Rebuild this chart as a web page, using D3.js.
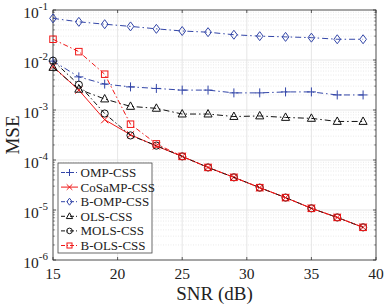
<!DOCTYPE html>
<html>
<head>
<meta charset="utf-8">
<script src="https://cdn.jsdelivr.net/npm/d3@7"></script>
<style>
  body { margin: 0; background: #fff; }
  svg, svg text { font-family: "Liberation Serif", "Times New Roman", Times, "DejaVu Serif", serif; }
</style>
</head>
<body>
<div id="vis"></div>
<script>
const snr = [15, 17, 19, 21, 23, 25, 27, 29, 31, 33, 35, 37, 39];

const ompCss    = [0.0095, 0.0046, 0.0033, 0.0029, 0.0027, 0.0025, 0.0025, 0.0022, 0.0022, 0.0023, 0.0023, 0.0020, 0.0020];
const cosampCss = [0.0074, 0.0025, 0.00064, 0.00032, 0.00019, 0.000118, 7.1e-5, 4.5e-5, 2.8e-5, 1.77e-5, 1.08e-5, 7.1e-6, 4.5e-6];
const bOmpCss   = [0.068, 0.058, 0.052, 0.047, 0.042, 0.038, 0.036, 0.032, 0.030, 0.029, 0.028, 0.026, 0.026];
const olsCss    = [0.0071, 0.0026, 0.00166, 0.00118, 0.00108, 0.00083, 0.00083, 0.00074, 0.00076, 0.00071, 0.00068, 0.00059, 0.00059];
const molsCss   = [0.0097, 0.0032, 0.00085, 0.00031, 0.000194, 0.000118, 7.1e-5, 4.5e-5, 2.8e-5, 1.77e-5, 1.08e-5, 7.1e-6, 4.5e-6];
const bOlsCss   = [0.026, 0.0147, 0.0052, 0.00052, 0.00021, 0.000118, 7.1e-5, 4.5e-5, 2.8e-5, 1.77e-5, 1.08e-5, 7.1e-6, 4.5e-6];

const xTicks = [15, 20, 25, 30, 35, 40];
const yExps = [-1, -2, -3, -4, -5, -6];

const blue = "#3346a8";
const red = "#f01818";
const black = "#111";
const FONT = "'Liberation Serif', 'Times New Roman', serif";

const series = [
  { name: "OMP-CSS",    values: ompCss,    color: blue,  dash: "6,3,1.5,3", marker: "plus" },
  { name: "CoSaMP-CSS", values: cosampCss, color: red,   dash: null,        marker: "cross" },
  { name: "B-OMP-CSS",  values: bOmpCss,   color: blue,  dash: "6,3,1.5,3", marker: "diamond" },
  { name: "OLS-CSS",    values: olsCss,    color: black, dash: "6,3,1.5,3", marker: "triangle" },
  { name: "MOLS-CSS",   values: molsCss,   color: black, dash: "5,2.5,1.5,2.5", marker: "circle" },
  { name: "B-OLS-CSS",  values: bOlsCss,   color: red,   dash: "5,2.5,1.5,2.5", marker: "square" }
];

const W = 387, H = 306;
const margin = { top: 10, right: 11, bottom: 46, left: 53 };
const width = W - margin.left - margin.right;
const height = H - margin.top - margin.bottom;

const svg = d3.select("#vis").append("svg")
  .attr("width", W).attr("height", H)
  .attr("font-family", FONT);
const g = svg.append("g")
  .attr("transform", "translate(" + margin.left + "," + margin.top + ")");

const x = d3.scaleLinear().domain([15, 40]).range([0, width]);
const y = d3.scaleLog().domain([1e-6, 1e-1]).range([height, 0]);

// minor grid (dotted)
const minor = [];
for (let e = -6; e < -1; e++) {
  for (let k = 2; k <= 9; k++) minor.push(k * Math.pow(10, e));
}
g.selectAll(".minor").data(minor).join("line")
  .attr("x1", 0).attr("x2", width)
  .attr("y1", d => y(d)).attr("y2", d => y(d))
  .attr("stroke", "#dcdcdc").attr("stroke-width", 0.6)
  .attr("stroke-dasharray", "1,1.5");

// major grid
g.selectAll(".gy").data(yExps).join("line")
  .attr("x1", 0).attr("x2", width)
  .attr("y1", d => y(Math.pow(10, d))).attr("y2", d => y(Math.pow(10, d)))
  .attr("stroke", "#e0e0e0").attr("stroke-width", 0.8);
g.selectAll(".gx").data(xTicks).join("line")
  .attr("x1", d => x(d)).attr("x2", d => x(d))
  .attr("y1", 0).attr("y2", height)
  .attr("stroke", "#e0e0e0").attr("stroke-width", 0.8);

// box
g.append("rect").attr("width", width).attr("height", height)
  .attr("fill", "none").attr("stroke", "#333").attr("stroke-width", 0.8);

// ticks inward
g.selectAll(".tx").data(xTicks).join("line")
  .attr("x1", d => x(d)).attr("x2", d => x(d))
  .attr("y1", height).attr("y2", height - 3)
  .attr("stroke", "#333").attr("stroke-width", 0.8);
g.selectAll(".tx2").data(xTicks).join("line")
  .attr("x1", d => x(d)).attr("x2", d => x(d))
  .attr("y1", 0).attr("y2", 3)
  .attr("stroke", "#333").attr("stroke-width", 0.8);
g.selectAll(".ty").data(yExps).join("line")
  .attr("x1", 0).attr("x2", 3)
  .attr("y1", d => y(Math.pow(10, d))).attr("y2", d => y(Math.pow(10, d)))
  .attr("stroke", "#333").attr("stroke-width", 0.8);
g.selectAll(".ty2").data(yExps).join("line")
  .attr("x1", width).attr("x2", width - 3)
  .attr("y1", d => y(Math.pow(10, d))).attr("y2", d => y(Math.pow(10, d)))
  .attr("stroke", "#333").attr("stroke-width", 0.8);
g.selectAll(".tym").data(minor).join("line")
  .attr("x1", width).attr("x2", width - 1.8)
  .attr("y1", d => y(d)).attr("y2", d => y(d))
  .attr("stroke", "#333").attr("stroke-width", 0.6);
g.selectAll(".tym2").data(minor).join("line")
  .attr("x1", 0).attr("x2", 1.8)
  .attr("y1", d => y(d)).attr("y2", d => y(d))
  .attr("stroke", "#333").attr("stroke-width", 0.6);

// tick labels
g.selectAll(".xl").data(xTicks).join("text")
  .attr("x", d => x(d)).attr("y", height + 19)
  .attr("text-anchor", "middle")
  .attr("font-family", FONT)
  .style("font-size", "15.5px").attr("fill", "#222")
  .text(d => d);

const yl = g.selectAll(".yl").data(yExps).join("text")
  .attr("x", -5).attr("y", d => y(Math.pow(10, d)) + 8)
  .attr("text-anchor", "end")
  .attr("font-family", FONT)
  .style("font-size", "15.5px").attr("fill", "#222");
yl.append("tspan").text("10");
yl.append("tspan").attr("dy", -8).style("font-size", "11px").text(d => "-" + Math.abs(d));

// axis titles
svg.append("text")
  .attr("x", margin.left + width / 2).attr("y", 300)
  .attr("text-anchor", "middle")
  .attr("font-family", FONT)
  .style("font-size", "19px").attr("fill", "#222")
  .text("SNR (dB)");
svg.append("text")
  .attr("transform", "translate(19," + (margin.top + height / 2) + ") rotate(-90)")
  .attr("text-anchor", "middle")
  .attr("font-family", FONT)
  .style("font-size", "19px").attr("fill", "#222")
  .text("MSE");

// markers
function drawMarker(sel, type, color, s) {
  if (type === "plus") {
    sel.append("path").attr("d", `M${-s},0H${s}M0,${-s}V${s}`)
      .attr("stroke", color).attr("stroke-width", 1).attr("fill", "none");
  } else if (type === "cross") {
    const t = s * 0.8;
    sel.append("path").attr("d", `M${-t},${-t}L${t},${t}M${-t},${t}L${t},${-t}`)
      .attr("stroke", color).attr("stroke-width", 1).attr("fill", "none");
  } else if (type === "diamond") {
    sel.append("path").attr("d", `M0,${-s}L${s * 0.75},0L0,${s}L${-s * 0.75},0Z`)
      .attr("stroke", color).attr("stroke-width", 1).attr("fill", "none");
  } else if (type === "triangle") {
    sel.append("path").attr("d", `M0,${-s}L${s * 0.9},${s * 0.65}L${-s * 0.9},${s * 0.65}Z`)
      .attr("stroke", color).attr("stroke-width", 1).attr("fill", "none");
  } else if (type === "circle") {
    sel.append("circle").attr("r", s * 0.8)
      .attr("stroke", color).attr("stroke-width", 1).attr("fill", "none");
  } else if (type === "square") {
    const t = s * 0.72;
    sel.append("rect").attr("x", -t).attr("y", -t).attr("width", 2 * t).attr("height", 2 * t)
      .attr("stroke", color).attr("stroke-width", 1).attr("fill", "none");
  }
}

const line = d3.line().x(d => x(d[0])).y(d => y(d[1]));

series.forEach(s => {
  const pts = snr.map((v, i) => [v, s.values[i]]);
  g.append("path").datum(pts)
    .attr("d", line)
    .attr("fill", "none")
    .attr("stroke", s.color)
    .attr("stroke-width", 1)
    .attr("stroke-dasharray", s.dash);
  g.selectAll(null).data(pts).join("g")
    .attr("transform", d => `translate(${x(d[0])},${y(d[1])})`)
    .each(function () { drawMarker(d3.select(this), s.marker, s.color, 4.5); });
});

// legend
const lg = svg.append("g").attr("transform", "translate(58,163)");
lg.append("rect").attr("width", 94).attr("height", 90)
  .attr("fill", "#fff").attr("stroke", "#444").attr("stroke-width", 0.8);
series.forEach((s, i) => {
  const yy = 9.5 + i * 14.6;
  lg.append("line").attr("x1", 3).attr("x2", 20).attr("y1", yy).attr("y2", yy)
    .attr("stroke", s.color).attr("stroke-width", 1)
    .attr("stroke-dasharray", s.dash ? "4,2,1,2" : null);
  const m = lg.append("g").attr("transform", `translate(11.5,${yy})`);
  drawMarker(m, s.marker, s.color, 3.5);
  lg.append("text").attr("x", 22.5).attr("y", yy + 4.5)
    .attr("font-family", FONT)
    .style("font-size", "13px").attr("fill", "#222")
    .text(s.name);
});
</script>
</body>
</html>
